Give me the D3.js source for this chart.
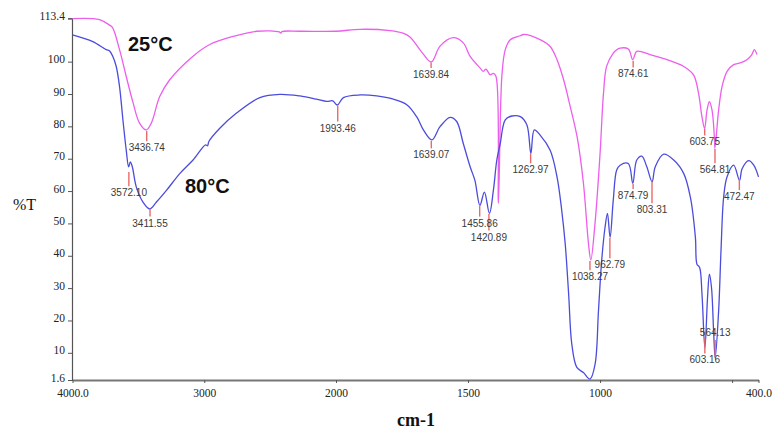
<!DOCTYPE html>
<html><head><meta charset="utf-8">
<script src="https://cdn.jsdelivr.net/npm/d3@7/dist/d3.min.js"></script>
<style>
html,body{margin:0;padding:0;background:#fff;}
svg{display:block;}
</style></head>
<body><svg id="chart" width="782" height="431"></svg>
<script>
// ---------- DATA ----------
const yTickValues = [1.6, 10, 20, 30, 40, 50, 60, 70, 80, 90, 100, 113.4];
const yTickLabels = ["1.6","10","20","30","40","50","60","70","80","90","100","113.4"];
const xTickValues = [4000, 3000, 2000, 1500, 1000, 500, 400];
const xTickLabels = ["4000.0","3000","2000","1500","1000","","400.0"];
const seriesNames = ["25\u00B0C", "80\u00B0C"];

// 25°C spectrum: [wavenumber cm-1, %T]
const spectrum25 = [
 [4000,113.3],[3795,113.0],[3719,111.3],[3696,110.5],[3643,103.7],[3592,95.4],[3541,87.4],
 [3491,81.0],[3440,78.9],[3402,81.0],[3338,89.2],[3262,94.4],[3085,101.7],[2958,105.3],
 [2781,107.8],[2603,109.4],[2430,109.2],[2420,108.8],[2410,109.3],[2274,109.4],[2000,109.4],
 [1909,110.0],[1795,109.6],[1746,108.8],[1720,107.6],[1671,102.5],[1639,99.9],[1606,104.8],
 [1556,107.4],[1518,105.8],[1492,101.6],[1454,98.0],[1442,97.0],[1432,97.7],[1416,95.9],
 [1404,96.4],[1394,95.4],[1385,56.2],[1372,95.4],[1359,103.7],[1340,106.8],[1302,108.0],
 [1290,108.4],[1227,106.8],[1189,104.7],[1163,100.6],[1138,94.4],[1113,86.1],[1087,76.8],
 [1063,62.4],[1044,43.9],[1035,38.7],[1019,50.1],[1000,71.6],[987,90.2],[975,98.6],
 [950,102.6],[937,103.7],[924,104.2],[893,103.9],[876,100.6],[861,103.2],[811,102.2],
 [746,100.6],[683,98.5],[646,95.9],[627,90.2],[614,82.9],[604,79.3],[595,85.0],[586,87.6],
 [576,85.0],[567,76.5],[565,73.2],[551,85.0],[538,92.3],[519,97.0],[494,99.1],[469,99.6],
 [444,100.6],[425,102.2],[416,103.7],[406,102.2]
];

// 80°C spectrum: [wavenumber cm-1, %T]
const spectrum80 = [
 [4000,108.3],[3846,106.2],[3744,103.7],[3720,103.4],[3694,101.6],[3668,98.5],[3643,92.3],
 [3617,81.9],[3592,72.6],[3574,67.5],[3561,69.0],[3546,67.5],[3516,61.3],[3465,56.6],
 [3414,54.5],[3363,56.6],[3287,60.2],[3186,65.4],[3085,69.6],[2990,74.3],[2975,74.0],
 [2965,75.3],[2882,79.4],[2755,84.1],[2578,88.9],[2426,89.9],[2274,89.4],[2147,88.4],
 [2071,87.7],[2025,87.9],[1995,86.6],[1972,88.9],[1909,89.7],[1846,89.4],[1783,88.4],
 [1732,86.7],[1694,82.9],[1669,78.9],[1637,75.8],[1606,79.9],[1568,82.8],[1543,81.5],
 [1518,74.7],[1492,67.5],[1474,63.3],[1455,55.6],[1438,59.7],[1419,53.1],[1404,60.2],
 [1391,69.6],[1378,74.7],[1359,82.0],[1334,83.2],[1302,83.0],[1277,80.4],[1262,71.6],
 [1249,78.9],[1227,77.3],[1189,72.6],[1163,64.4],[1145,53.9],[1132,43.7],[1119,28.2],
 [1107,12.7],[1088,5.5],[1063,3.9],[1038,1.9],[1019,6.4],[1006,23.0],[994,38.4],
 [981,48.9],[972,53.1],[962,45.7],[950,57.2],[937,66.5],[924,68.0],[893,68.5],[876,62.4],
 [861,69.6],[842,70.8],[823,67.5],[803,62.9],[791,67.5],[759,71.4],[721,69.6],[683,65.4],
 [658,58.1],[639,45.7],[633,37.4],[623,36.4],[614,28.1],[603,11.5],[593,27.1],[586,34.3],
 [578,30.2],[570,16.7],[564,8.4],[551,22.9],[542,41.6],[532,58.1],[519,64.4],[494,68.0],
 [472,63.3],[462,66.9],[437,69.4],[418,68.0],[400,64.4]
];

// Peak marks: [wavenumber, label, %T at mark top, %T at mark bottom]
const peaks25 = [
 [3436.74,"3436.74",78.6,75.4],
 [1639.84,"1639.84",99.7,98.0],
 [1038.27,"1038.27",38.4,35.5],
 [874.61,"874.61",100.3,98.2],
 [603.75,"603.75",79.2,77.2],
 [564.81,"564.81",73.0,68.6]
];
const peaks80 = [
 [3572.10,"3572.10",65.9,61.5],
 [3411.55,"3411.55",54.5,52.1],
 [1993.46,"1993.46",86.4,81.5],
 [1639.07,"1639.07",75.5,73.2],
 [1455.86,"1455.86",55.4,52.1],
 [1420.89,"1420.89",52.9,47.8],
 [1262.97,"1262.97",71.5,68.6],
 [962.79,"962.79",45.5,39.2],
 [874.79,"874.79",62.2,60.6],
 [803.31,"803.31",62.8,56.2],
 [472.47,"472.47",63.8,60.3],
 [603.16,"603.16",14.6,9.8]
];
// label placed above its mark
const peaksAbove80 = [
 [564.13,"564.13",14.0,8.7]
];

// ---------- CHART ----------
const svg = d3.select("#chart");
const colors = {p25:"#ec5fec", p80:"#4c4cdc", mark:"#e86a6a", axis:"#555", text:"#222", peakText:"#3a3a3a"};

// Split wavenumber scale (4000-2000 compressed, 2000-400 expanded)
const x = d3.scaleLinear().domain([4000, 2000, 400]).range([72.5, 336, 758.5]);
const y = d3.scaleLinear().domain([1.6, 113.4]).range([380, 18.3]);

// y axis
const yAxis = d3.axisLeft(y).tickValues(yTickValues)
  .tickFormat((d,i)=>yTickLabels[i]).tickSize(4).tickPadding(3);
const gy = svg.append("g").attr("transform","translate(72,0)").call(yAxis);
gy.select(".domain").attr("stroke",colors.axis).attr("stroke-width",1.2);
gy.selectAll(".tick line").attr("stroke",colors.axis);
gy.selectAll(".tick text").attr("font-family","'Liberation Serif', serif")
  .attr("font-size",11.5).attr("fill",colors.text).attr("dy","0.1em");

// x axis
const xAxis = d3.axisBottom(x).tickValues(xTickValues)
  .tickFormat((d,i)=>xTickLabels[i]).tickSize(3).tickSizeOuter(0).tickPadding(6);
const gx = svg.append("g").attr("transform","translate(0,380)").call(xAxis);
gx.select(".domain").attr("stroke","#777").attr("stroke-width",1.8);
gx.selectAll(".tick line").attr("stroke",colors.axis);
gx.selectAll(".tick text").attr("font-family","'Liberation Serif', serif")
  .attr("font-size",11.5).attr("fill",colors.text);

// axis titles
svg.append("text").attr("x",13).attr("y",210).attr("font-family","'Liberation Serif', serif")
  .attr("font-size",16).attr("fill","#111").text("%T");
svg.append("text").attr("x",416).attr("y",426).attr("text-anchor","middle")
  .attr("font-family","'Liberation Serif', serif").attr("font-weight","bold")
  .attr("font-size",18).attr("fill","#111").text("cm-1");

// spectra
const line = d3.line().x(d=>x(d[0])).y(d=>y(d[1])).curve(d3.curveCatmullRom.alpha(0.5));
svg.append("path").datum(spectrum25).attr("d",line).attr("fill","none")
  .attr("stroke",colors.p25).attr("stroke-width",1.3);
svg.append("path").datum(spectrum80).attr("d",line).attr("fill","none")
  .attr("stroke",colors.p80).attr("stroke-width",1.3);

// peak marks
function drawPeaks(list, above){
  const g = svg.append("g");
  g.selectAll("line").data(list).join("line")
    .attr("x1",d=>x(d[0])).attr("x2",d=>x(d[0]))
    .attr("y1",d=>y(d[2])).attr("y2",d=>y(d[3]))
    .attr("stroke",colors.mark).attr("stroke-width",1.4);
  g.selectAll("text").data(list).join("text")
    .attr("x",d=>x(d[0])).attr("y",d=> above ? y(d[2]) - 3.5 : y(d[3]) + 10)
    .attr("text-anchor","middle").attr("font-family","'Liberation Sans', Arial, sans-serif")
    .attr("font-size",10).attr("fill",colors.peakText).text(d=>d[1]);
}
drawPeaks(peaks25,false);
drawPeaks(peaks80,false);
drawPeaks(peaksAbove80,true);

// series labels
svg.append("text").attr("x",128).attr("y",51).attr("font-family","'Liberation Sans', Arial, sans-serif")
  .attr("font-weight","bold").attr("font-size",20).attr("fill","#111").text(seriesNames[0]);
svg.append("text").attr("x",185).attr("y",193).attr("font-family","'Liberation Sans', Arial, sans-serif")
  .attr("font-weight","bold").attr("font-size",20).attr("fill","#111").text(seriesNames[1]);
</script>
</body></html>
